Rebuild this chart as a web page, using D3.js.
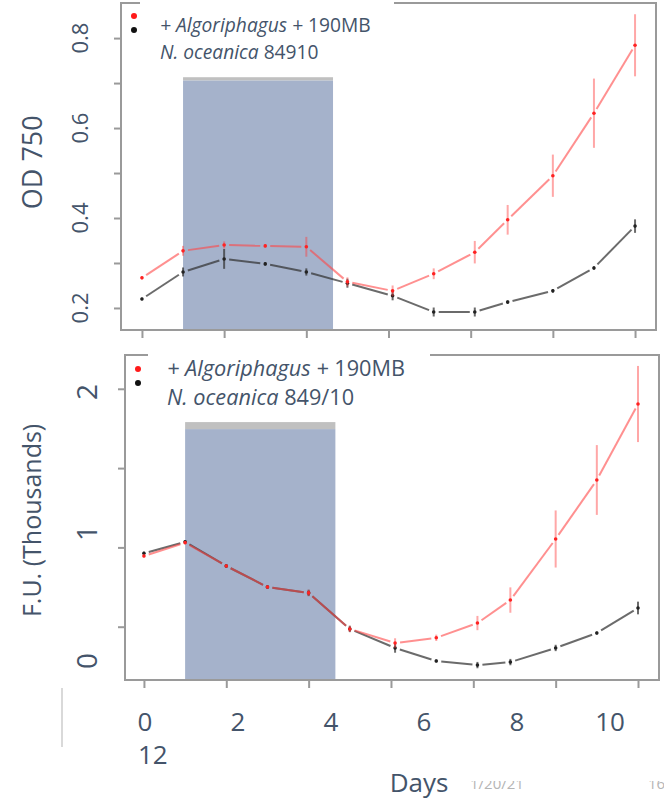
<!DOCTYPE html>
<html>
<head>
<meta charset="utf-8">
<script src="https://cdn.jsdelivr.net/npm/d3@7"></script>
<style>
  body { margin: 0; background: #fff; }
  svg { display: block; font-family: "Open Sans", sans-serif; }
</style>
</head>
<body>
<div id="chart"></div>
<script>
// sampling days (same for both panels)
const days = [0, 1, 2, 3, 4, 5, 6.1, 7.1, 8.1, 8.9, 10, 11, 12]

// OD 750 (top panel)
const odRed = [0.267, 0.327, 0.340, 0.338, 0.336, 0.258, 0.238, 0.276, 0.324, 0.396, 0.494, 0.633, 0.784]
const odRedErr = [0.004, 0.011, 0.008, 0.004, 0.022, 0.010, 0.012, 0.012, 0.025, 0.033, 0.047, 0.077, 0.069]
const odBlack = [0.220, 0.280, 0.309, 0.298, 0.280, 0.255, 0.227, 0.191, 0.191, 0.213, 0.238, 0.289, 0.382]
const odBlackErr = [0.003, 0.010, 0.022, 0.004, 0.008, 0.010, 0.010, 0.010, 0.010, 0.004, 0.004, 0.004, 0.015]

// F.U. in thousands (bottom panel)
const fuRed = [0.946, 1.030, 0.883, 0.750, 0.713, 0.486, 0.397, 0.430, 0.523, 0.668, 1.053, 1.425, 1.904]
const fuRedErr = [0.010, 0.010, 0.010, 0.010, 0.020, 0.020, 0.030, 0.020, 0.045, 0.080, 0.180, 0.220, 0.240]
const fuBlack = [0.963, 1.035, 0.883, 0.750, 0.713, 0.486, 0.366, 0.284, 0.258, 0.277, 0.366, 0.460, 0.618]
const fuBlackErr = [0.010, 0.010, 0.010, 0.010, 0.020, 0.020, 0.030, 0.010, 0.020, 0.020, 0.020, 0.010, 0.040]

// dark period shading (days) and its top edge
const shadeDays = [1.0, 4.65]
const odShadeTop = [0.706, 0.713]
const fuShadeTop = [1.746, 1.790]

// ticks and labels
const odTicks = [0.2, 0.3, 0.4, 0.5, 0.6, 0.7, 0.8]
const odTickLabels = ["0.2", "", "0.4", "", "0.6", "", "0.8"]
const fuTicks = [0.5, 1.0, 1.5, 2.0]
const fuLabelText = ["0", "1", "2"]
const fuLabelAt = [0.284, 1.091, 1.98]
const dayTicks = [0, 2, 4, 6, 8, 10, 12]
const dayLabels = ["0", "2", "4", "6", "8", "10"]
const dayLabelWrap = "12"

const legendTop = ["+ Algoriphagus + 190MB", "N. oceanica 84910"]
const legendBottom = ["+ Algoriphagus + 190MB", "N. oceanica 849/10"]

const W = 664, H = 801
const textCol = "#44546a"
const redLine = "rgba(255,70,70,0.6)"
const redBar = "rgba(255,60,60,0.45)"
const blackLine = "rgba(50,50,50,0.72)"

const svg = d3.select("#chart").append("svg")
    .attr("width", W)
    .attr("height", H)

function drawPanel(opt) {
    const x = d3.scaleLinear().domain(opt.xDomain).range(opt.xRange)
    const y = d3.scaleLinear().domain(opt.yDomain).range(opt.yRange)
    const g = svg.append("g")

    // shaded block with gray strip on top
    g.append("rect")
        .attr("x", x(shadeDays[0]))
        .attr("width", x(shadeDays[1]) - x(shadeDays[0]))
        .attr("y", y(opt.shadeTop[0]))
        .attr("height", opt.yRange[0] - y(opt.shadeTop[0]))
        .attr("fill", "#a5b2cb")
    g.append("rect")
        .attr("x", x(shadeDays[0]))
        .attr("width", x(shadeDays[1]) - x(shadeDays[0]))
        .attr("y", y(opt.shadeTop[1]))
        .attr("height", y(opt.shadeTop[0]) - y(opt.shadeTop[1]))
        .attr("fill", "#c0c0c0")

    // frame
    g.append("rect")
        .attr("x", opt.xRange[0])
        .attr("y", opt.yRange[1])
        .attr("width", opt.xRange[1] - opt.xRange[0])
        .attr("height", opt.yRange[0] - opt.yRange[1])
        .attr("fill", "none")
        .attr("stroke", "#9a9a9a")
        .attr("stroke-width", 2)

    // axes (ticks only, labels placed separately)
    const ax = g.append("g")
        .attr("transform", `translate(0,${opt.yRange[0]})`)
        .call(d3.axisBottom(x).tickValues(dayTicks).tickFormat("").tickSizeOuter(0).tickSize(8))
    const ay = g.append("g")
        .attr("transform", `translate(${opt.xRange[0]},0)`)
        .call(d3.axisLeft(y).tickValues(opt.yTicks).tickFormat("").tickSizeOuter(0).tickSize(7))
    ;[ax, ay].forEach(a => {
        a.select(".domain").remove()
        a.selectAll("line").attr("stroke", "#9a9a9a").attr("stroke-width", 2)
    })

    // series: black first, red on top
    const series = [
        { v: opt.black, e: opt.blackErr, line: blackLine, bar: blackLine, dot: "#222" },
        { v: opt.red, e: opt.redErr, line: redLine, bar: redBar, dot: "#f22" }
    ]
    series.forEach(s => {
        const pts = days.map((d, i) => ({ px: x(d), py: y(s.v[i]), e: s.e[i], v: s.v[i] }))
        // R type="b": segments with gaps around points
        const gap = 5
        const segs = d3.pairs(pts).map(([a, b]) => {
            const dx = b.px - a.px, dy = b.py - a.py
            const len = Math.hypot(dx, dy)
            const ux = dx / len, uy = dy / len
            return { x1: a.px + ux * gap, y1: a.py + uy * gap, x2: b.px - ux * gap, y2: b.py - uy * gap, len }
        }).filter(sg => sg.len > gap * 2)
        g.append("g").selectAll("line").data(segs).join("line")
            .attr("x1", d => d.x1).attr("y1", d => d.y1)
            .attr("x2", d => d.x2).attr("y2", d => d.y2)
            .attr("stroke", s.line).attr("stroke-width", 2)
        g.append("g").selectAll("line").data(pts).join("line")
            .attr("x1", d => d.px).attr("x2", d => d.px)
            .attr("y1", d => y(d.v - d.e)).attr("y2", d => y(d.v + d.e))
            .attr("stroke", s.bar).attr("stroke-width", 2)
        g.append("g").selectAll("circle").data(pts).join("circle")
            .attr("cx", d => d.px).attr("cy", d => d.py)
            .attr("r", 1.8).attr("fill", s.dot)
    })

    // legend box hiding the top border
    const lx = opt.xRange[0]
    g.append("rect")
        .attr("x", lx + opt.legendBox[0])
        .attr("y", opt.yRange[1] - 4)
        .attr("width", opt.legendBox[1])
        .attr("height", opt.legendBox[2])
        .attr("fill", "#fff")
    g.append("circle").attr("cx", lx + 13).attr("cy", opt.yRange[1] + opt.legendDotY).attr("r", 3).attr("fill", "#ff1a1a")
    g.append("circle").attr("cx", lx + 13).attr("cy", opt.yRange[1] + opt.legendDotY + 14).attr("r", 3).attr("fill", "#111")
    const lt = g.append("g")
        .attr("fill", textCol)
        .style("font-size", opt.legendSize + "px")
    opt.legend.forEach((line, i) => {
        const t = lt.append("text")
            .attr("x", lx + opt.legendTextX)
            .attr("y", opt.yRange[1] + opt.legendBase + i * opt.legendStep)
        // italic names, upright numbers
        const m = line.match(/^(.*?)(\s*[0-9][0-9A-Z\/]*)$/)
        t.append("tspan").style("font-style", "italic").text(m[1])
        t.append("tspan").text(m[2])
    })

    return { x, y, g }
}

// ---- top panel: OD 750
const odPanel = drawPanel({
    xDomain: [-0.51, 12.51], xRange: [121, 656],
    yDomain: [0.151, 0.878], yRange: [330, 3],
    yTicks: odTicks,
    shadeTop: odShadeTop,
    red: odRed, redErr: odRedErr, black: odBlack, blackErr: odBlackErr,
    legend: legendTop, legendBox: [19, 254, 10],
    legendDotY: 13, legendTextX: 39, legendBase: 29, legendStep: 27, legendSize: 19.2
})
odPanel.g.append("g").selectAll("text").data(odTicks).join("text")
    .attr("transform", d => `translate(80,${odPanel.y(d)}) rotate(-90)`)
    .attr("text-anchor", "middle")
    .attr("dy", "0.35em")
    .attr("fill", textCol)
    .style("font-size", "22px")
    .text((d, i) => odTickLabels[i])
odPanel.g.append("text")
    .attr("transform", `translate(33,${odPanel.y(0.524)}) rotate(-90)`)
    .attr("text-anchor", "middle")
    .attr("dy", "0.35em")
    .attr("fill", textCol)
    .style("font-size", "27px")
    .text("OD 750")

// ---- bottom panel: F.U.
const fuPanel = drawPanel({
    xDomain: [-0.46, 12.51], xRange: [125, 659],
    yDomain: [0.164, 2.213], yRange: [680, 355],
    yTicks: fuTicks,
    shadeTop: fuShadeTop,
    red: fuRed, redErr: fuRedErr, black: fuBlack, blackErr: fuBlackErr,
    legend: legendBottom, legendBox: [23, 282, 10],
    legendDotY: 14, legendTextX: 42, legendBase: 21, legendStep: 29, legendSize: 21.7
})
fuPanel.g.append("g").selectAll("text").data(fuLabelAt).join("text")
    .attr("transform", d => `translate(87,${fuPanel.y(d)}) rotate(-90)`)
    .attr("text-anchor", "middle")
    .attr("dy", "0.35em")
    .attr("fill", textCol)
    .style("font-size", "28px")
    .text((d, i) => fuLabelText[i])
fuPanel.g.append("text")
    .attr("transform", `translate(32,${fuPanel.y(1.17)}) rotate(-90)`)
    .attr("text-anchor", "middle")
    .attr("dy", "0.35em")
    .attr("fill", textCol)
    .style("font-size", "25px")
    .text("F.U. (Thousands)")

// ---- day labels (separate text box, not aligned to ticks)
const labelX = d3.scaleLinear().domain([0, 10]).range([145, 610])
const dl = svg.append("g").attr("fill", textCol).style("font-size", "26px")
dl.selectAll("text").data(dayLabels).join("text")
    .attr("x", d => labelX(+d))
    .attr("y", 731)
    .attr("text-anchor", "middle")
    .text(d => d)
dl.append("text")
    .attr("x", labelX(0) - 7)
    .attr("y", 764)
    .text(dayLabelWrap)
svg.append("text")
    .attr("x", 419).attr("y", 792)
    .attr("text-anchor", "middle")
    .attr("fill", textCol)
    .style("font-size", "26px")
    .text("Days")

// slide leftovers: faint divider and clipped footer
svg.append("line")
    .attr("x1", 62).attr("x2", 62).attr("y1", 688).attr("y2", 747)
    .attr("stroke", "#d9d9d9").attr("stroke-width", 2)
svg.append("clipPath").attr("id", "foot")
    .append("rect").attr("x", 440).attr("y", 781).attr("width", 224).attr("height", 20)
const foot = svg.append("g").attr("clip-path", "url(#foot)")
    .attr("fill", "#b5b5b5").style("font-size", "15px")
foot.append("text").attr("x", 470).attr("y", 789).text("1/20/21")
foot.append("text").attr("x", 648).attr("y", 789).text("16")
</script>
</body>
</html>
